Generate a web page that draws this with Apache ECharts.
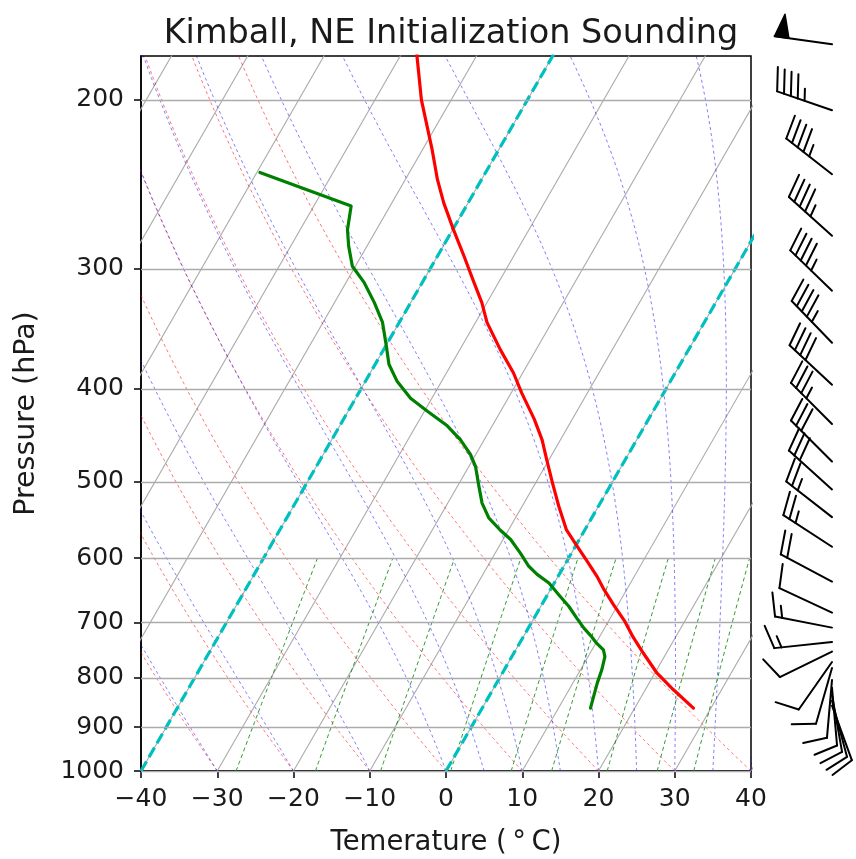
<!DOCTYPE html>
<html>
<head>
<meta charset="utf-8">
<script src="https://cdn.jsdelivr.net/npm/echarts@6/dist/echarts.min.js"></script>
<style>
  html, body { margin: 0; padding: 0; background: #fff; }
  #chart { width: 856px; height: 859px; }
</style>
</head>
<body>
<div id="chart"></div>
<script>
// ---- Sounding data (hPa, degC) ----
const tempP  = [860, 823, 791, 754, 725, 699, 671, 647, 627, 605, 583, 561, 530, 501, 474, 452, 430, 404, 385, 364, 341, 325, 310, 291, 273, 256, 242, 225, 200, 180, 170];
const tempT  = [27.7, 23.7, 20.3, 17.0, 14.4, 12.2, 9.4, 7.0, 5.1, 2.7, 0.2, -2.4, -5.2, -7.8, -10.3, -12.4, -15.0, -18.6, -21.2, -24.7, -28.5, -30.7, -33.2, -36.5, -39.9, -43.2, -45.8, -48.8, -53.9, -57.8, -59.5];

const dewP   = [860, 810, 785, 760, 748, 736, 725, 710, 693, 674, 658, 637, 624, 612, 593, 574, 561, 545, 526, 505, 482, 468, 452, 437, 422, 409, 393, 377, 361, 341, 325, 310, 298, 284, 273, 258, 238];
const dewTd  = [14.2, 13.2, 12.8, 12.2, 11.5, 10.1, 9.0, 7.3, 5.6, 3.7, 1.8, -0.7, -2.9, -4.6, -6.7, -9.0, -11.1, -13.5, -15.5, -17.2, -19.1, -20.7, -23.1, -25.9, -29.6, -32.8, -35.8, -38.2, -39.9, -42.2, -44.8, -47.6, -50.4, -52.4, -53.8, -55.1, -69.6];

// ---- Wind (pressure hPa, direction deg, speed kt) ----
const barbP   = [175, 205, 239, 277, 316, 358, 396, 435, 476, 509, 544, 584, 635, 684, 709, 734, 751, 770, 781, 804, 819, 833, 845, 855];
const barbDir = [278, 289, 308, 312, 314, 316, 313, 315, 315, 312, 308, 303, 298, 295, 281, 264, 244, 215, 196, 185, 175, 170, 165, 160];
const barbSpd = [50, 45, 45, 45, 45, 45, 40, 35, 30, 30, 25, 25, 20, 10, 15, 15, 10, 10, 10, 10, 10, 10, 10, 10];

// ---- Axes ----
const pressureTicks = [200, 300, 400, 500, 600, 700, 800, 900, 1000];
const T_MIN = -40, T_MAX = 40, T_STEP = 10;
const P_TOP = 180, P_BOTTOM = 1000;

// ---- Reference lines ----
const highlightIsotherms = [-40, 0];
const dryAdiabatStarts   = [-40, -30, -20, -10, 0, 10, 20, 30, 40];
const moistAdiabatStarts = [-40, -30, -20, -10, 0, 5, 10, 15, 20, 25, 30, 35, 40];
const mixingRatios       = [0.0004, 0.001, 0.002, 0.004, 0.007, 0.01, 0.016, 0.024, 0.032];
const isothermStarts     = [-110, -100, -90, -80, -70, -60, -50, -40, -30, -20, -10, 0, 10, 20, 30, 40];

// Horizontal shift (degC per decade of pressure) that tilts isotherms by 30 degrees
const SKEW = 72.5;
const skewX = (t, p) => t + SKEW * Math.log10(P_BOTTOM / p);

// Pressure levels used to trace the curved background lines
const traceLevels = [];
for (let p = P_BOTTOM; p >= 170; p -= 5) traceLevels.push(p);

// Thermodynamic helpers
const Rd = 287.04, Cpd = 1005.7, Lv = 2.501e6, EPS = 0.622, KAPPA = Rd / Cpd;
const satVap = tc => 6.112 * Math.exp(17.67 * tc / (tc + 243.5));
const satMix = (p, tk) => { const es = satVap(tk - 273.15); return EPS * es / (p - es); };
const moistSlope = (p, tk) => {
  const rs = satMix(p, tk);
  return (1 / p) * (Rd * tk + Lv * rs) / (Cpd + Lv * Lv * rs * EPS / (Rd * tk * tk));
};
function moistAdiabat(t0) {
  const pts = [];
  let tk = t0 + 273.15;
  for (let i = 0; i < traceLevels.length; i++) {
    const p = traceLevels[i];
    pts.push([skewX(tk - 273.15, p), p]);
    if (i + 1 < traceLevels.length) {
      const h = traceLevels[i + 1] - p;
      const k1 = moistSlope(p, tk);
      const k2 = moistSlope(p + h / 2, tk + h * k1 / 2);
      const k3 = moistSlope(p + h / 2, tk + h * k2 / 2);
      const k4 = moistSlope(p + h, tk + h * k3);
      tk += h * (k1 + 2 * k2 + 2 * k3 + k4) / 6;
    }
  }
  return pts;
}
function dryAdiabat(t0) {
  const th = t0 + 273.15;
  return traceLevels.map(p => [skewX(th * Math.pow(p / P_BOTTOM, KAPPA) - 273.15, p), p]);
}
function mixingLine(w) {
  const pts = [];
  for (let p = P_BOTTOM; p >= 600; p -= 10) {
    const e = p * w / (EPS + w);
    const v = Math.log(e / 6.112);
    const td = 243.5 * v / (17.67 - v);
    pts.push([skewX(td, p), p]);
  }
  return pts;
}
const isotherm = t => [[skewX(t, P_BOTTOM), P_BOTTOM], [skewX(t, 170), 170]];

const FONT = 'DejaVu Sans';
const TEXT = '#1a1a1a';
const series = [];
const bgLine = (data, color, width, type, z) => ({
  type: 'line', data, showSymbol: false, symbol: 'none', silent: true, clip: true,
  animation: false, z, lineStyle: { color, width, type }
});

// Grey skewed isotherm grid
isothermStarts.forEach(t => series.push(bgLine(isotherm(t), '#ababab', 1.1, 'solid', 1)));
// Isobar grid
series.push({
  type: 'line', data: [], silent: true, animation: false, z: 1,
  markLine: {
    symbol: 'none', silent: true, animation: false, label: { show: false },
    lineStyle: { color: '#ababab', width: 1.3, type: 'solid' },
    data: pressureTicks.map(p => ({ yAxis: p }))
  }
});
dryAdiabatStarts.forEach(t => series.push(bgLine(dryAdiabat(t), 'rgba(255,0,0,0.55)', 1, [3, 3], 2)));
moistAdiabatStarts.forEach(t => series.push(bgLine(moistAdiabat(t), 'rgba(0,0,255,0.5)', 1, [3, 3], 2)));
mixingRatios.forEach(w => series.push(bgLine(mixingLine(w), 'rgba(0,128,0,0.8)', 1, [4, 3], 2)));
highlightIsotherms.forEach(t => series.push(bgLine(isotherm(t), '#00bfbf', 3.2, [11, 5], 3)));

// Temperature and dewpoint traces
series.push({
  type: 'line', name: 'Temperature', data: tempP.map((p, i) => [skewX(tempT[i], p), p]),
  showSymbol: false, symbol: 'none', clip: true, animation: false, z: 5,
  lineStyle: { color: '#ff0000', width: 3.2, join: 'round', cap: 'round' }
});
series.push({
  type: 'line', name: 'Dewpoint', data: dewP.map((p, i) => [skewX(dewTd[i], p), p]),
  showSymbol: false, symbol: 'none', clip: true, animation: false, z: 5,
  lineStyle: { color: '#008000', width: 3.2, join: 'round', cap: 'round' }
});

// Wind barbs drawn to the right of the diagram
const BARB_LEN = 58, BARB_GAP = 81;
series.push({
  type: 'custom', coordinateSystem: 'cartesian2d', clip: false, silent: true, animation: false, z: 6,
  data: barbP.map((p, i) => [T_MAX, p, barbDir[i], barbSpd[i]]),
  encode: { x: 0, y: 1 },
  renderItem(params, api) {
    const base = api.coord([api.value(0), api.value(1)]);
    const x0 = base[0] + BARB_GAP, y0 = base[1];
    const d = api.value(2) * Math.PI / 180;
    const ax = Math.sin(d), ay = -Math.cos(d);   // along staff, toward wind source
    const bx = Math.cos(d), by = Math.sin(d);    // feather side
    const P = (u, v) => [x0 + u * bx + v * ax, y0 + u * by + v * ay];
    const L = BARB_LEN, spacing = 0.125 * L, fh = 0.4 * L, fw = 0.25 * L;
    const s = Math.round(api.value(3) / 5) * 5;
    const nFlags = Math.floor(s / 50);
    const rem = s - nFlags * 50;
    const nBarbs = Math.floor(rem / 10);
    const half = rem % 10 >= 5;
    const children = [];
    const stroke = { stroke: '#000', lineWidth: 2, fill: null, lineCap: 'round', lineJoin: 'round' };
    children.push({ type: 'polyline', shape: { points: [P(0, 0), P(0, L)] }, style: stroke });
    let off = L;
    for (let i = 0; i < nFlags; i++) {
      if (off !== L) off += spacing / 2;
      children.push({ type: 'polygon', shape: { points: [P(0, off), P(fh, off - fw / 2), P(0, off - fw)] },
        style: { fill: '#000', stroke: '#000', lineWidth: 1.5, lineJoin: 'round' } });
      off -= fw + spacing;
    }
    for (let i = 0; i < nBarbs; i++) {
      children.push({ type: 'polyline', shape: { points: [P(0, off), P(fh, off + fw / 2)] }, style: stroke });
      off -= spacing;
    }
    if (half) {
      if (off === L) off -= 1.5 * spacing;
      children.push({ type: 'polyline', shape: { points: [P(0, off), P(fh / 2, off + fw / 4)] }, style: stroke });
    }
    return { type: 'group', children };
  }
});

const chart = echarts.init(document.getElementById('chart'), null, { renderer: 'canvas' });
chart.setOption({
  animation: false,
  backgroundColor: '#fff',
  title: {
    text: 'Kimball, NE Initialization Sounding',
    left: 446, top: 12, textAlign: 'center',
    textStyle: { fontFamily: FONT, fontSize: 33.5, fontWeight: 'normal', color: TEXT }
  },
  grid: { left: 141, right: 105, top: 56, bottom: 88, outerBoundsMode: 'none', containLabel: false,
    show: true, borderColor: '#000', borderWidth: 1.5, backgroundColor: 'rgba(0,0,0,0)' },
  xAxis: {
    type: 'value', min: T_MIN, max: T_MAX, interval: T_STEP,
    name: 'Temerature (\u2009\u00B0\u2009C)', nameLocation: 'middle', nameGap: 58,
    nameTextStyle: { fontFamily: FONT, fontSize: 27.5, color: TEXT },
    axisLine: { show: true, onZero: false, lineStyle: { color: '#000', width: 1.5 } },
    axisTick: { show: true, inside: false, length: 7, lineStyle: { color: '#000', width: 1.5 } },
    axisLabel: { fontFamily: FONT, fontSize: 25, color: TEXT, margin: 16,
      formatter: v => String(v).replace('-', '\u2212') },
    splitLine: { show: false }
  },
  yAxis: {
    type: 'log', logBase: 10, min: P_TOP, max: P_BOTTOM, inverse: true,
    name: 'Pressure (hPa)', nameLocation: 'middle', nameGap: 100,
    nameTextStyle: { fontFamily: FONT, fontSize: 28.5, color: TEXT },
    axisLine: { show: true, onZero: false, lineStyle: { color: '#000', width: 1.5 } },
    axisTick: { show: true, inside: false, length: 7, customValues: pressureTicks, lineStyle: { color: '#000', width: 1.5 } },
    axisLabel: { fontFamily: FONT, fontSize: 25, color: TEXT, margin: 17, customValues: pressureTicks,
      formatter: v => String(Math.round(v)) },
    splitLine: { show: false },
    minorTick: { show: false }
  },
  series
});
</script>
</body>
</html>
